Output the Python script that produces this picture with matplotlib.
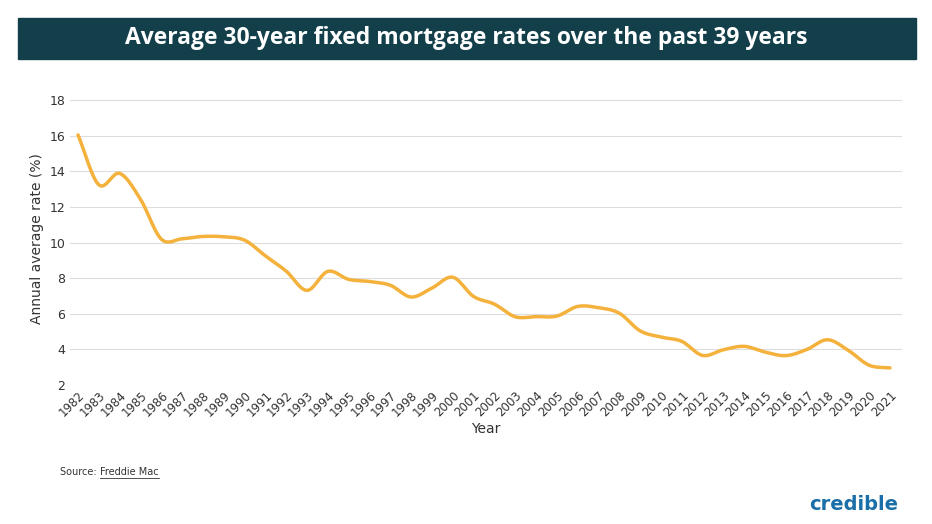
import numpy as np
import matplotlib.pyplot as plt

years = list(range(1982, 2022))
rates = [16.04, 13.24, 13.88, 12.43, 10.19, 10.21, 10.34, 10.32, 10.13, 9.25,
         8.39, 7.31, 8.38, 7.93, 7.81, 7.60, 6.94, 7.44, 8.05, 6.97,
         6.54, 5.83, 5.84, 5.87, 6.41, 6.34, 6.03, 5.04, 4.69, 4.45,
         3.66, 3.98, 4.17, 3.85, 3.65, 3.99, 4.54, 3.94, 3.11, 2.96]
y_ticks = [2, 4, 6, 8, 10, 12, 14, 16, 18]

LINE = "#F4B23C"
BAR = "#123F4A"


def catmull_rom(x, y, n=12):
    # smooth the line through the points, like the original chart
    x = np.asarray(x, float)
    y = np.asarray(y, float)
    px = np.concatenate([[2 * x[0] - x[1]], x, [2 * x[-1] - x[-2]]])
    py = np.concatenate([[2 * y[0] - y[1]], y, [2 * y[-1] - y[-2]]])
    xs, ys = [], []
    t = np.linspace(0, 1, n, endpoint=False)
    for i in range(1, len(px) - 2):
        for p, out in ((px, xs), (py, ys)):
            p0, p1, p2, p3 = p[i - 1:i + 3]
            out.extend(0.5 * (2 * p1 + (-p0 + p2) * t
                              + (2 * p0 - 5 * p1 + 4 * p2 - p3) * t ** 2
                              + (-p0 + 3 * p1 - 3 * p2 + p3) * t ** 3))
    xs.append(x[-1])
    ys.append(y[-1])
    return xs, ys


fig = plt.figure(figsize=(9.32, 5.24), dpi=100)
fig.patch.set_facecolor("white")

# title bar
fig.patches.append(plt.Rectangle((18 / 932, 1 - 59 / 524), 898 / 932, 41 / 524,
                                 transform=fig.transFigure, color=BAR, zorder=0))
fig.text(466 / 932, 1 - 38 / 524, "Average 30-year fixed mortgage rates over the past 39 years",
         ha="center", va="center", color="white", fontsize=16.5, fontweight="bold",
         family="Open Sans")

# axes: 2 at y=385px, 18 at y=100px; 1982 at x=78, 2021 at x=890
ax = fig.add_axes([70 / 932, 1 - 385 / 524, 832 / 932, 293 / 524])
sx, sy = catmull_rom(years, rates)
ax.plot(sx, sy, color=LINE, lw=2.5, solid_capstyle="round")

ax.set_ylim(2, 18 + 16 * 8 / 285)
ax.set_yticks(y_ticks)
x0 = 1982 - 8 * 39 / 812
ax.set_xlim(x0, x0 + 832 * 39 / 812)
ax.set_xticks(years)
ax.set_xticklabels([str(y) for y in years], rotation=45, ha="right",
                   rotation_mode="anchor", fontsize=8.5, color="#333333")
ax.tick_params(axis="y", labelsize=9, colors="#333333", length=0)
ax.tick_params(axis="x", length=0, pad=3)
ax.grid(axis="y", color="#dddddd", lw=0.8)
for s in ax.spines.values():
    s.set_visible(False)
ax.set_ylabel("Annual average rate (%)", fontsize=10, color="#333333")
ax.set_xlabel("Year", fontsize=10, color="#333333", labelpad=2)

fig.text(60 / 932, 1 - 472 / 524, "Source: ", fontsize=7, color="#333333", va="center")
fig.text(100 / 932, 1 - 472 / 524, "Freddie Mac", fontsize=7, color="#333333", va="center")
fig.lines.append(plt.Line2D([100 / 932, 159 / 932], [1 - 478 / 524] * 2,
                            transform=fig.transFigure, color="#333333", lw=0.6))
fig.text(898 / 932, 1 - 505 / 524, "credible", fontsize=14, fontweight="bold",
         color="#1B6FA8", ha="right", va="center")

fig.savefig("out.png", dpi=100)
